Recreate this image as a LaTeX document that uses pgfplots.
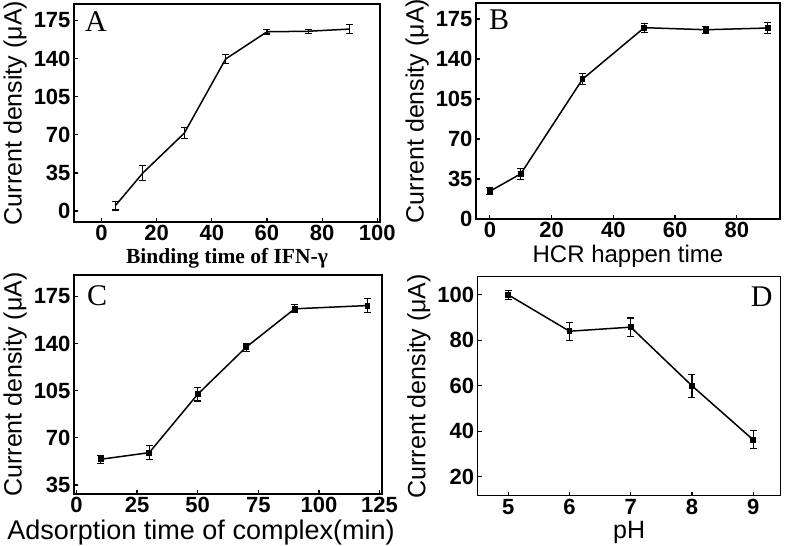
\documentclass[border=0pt]{standalone}
\usepackage{fontspec}
\setmainfont{Liberation Serif}
\setsansfont{Liberation Sans}
\usepackage{pgfplots}
\pgfplotsset{compat=1.18}
\pgfplotsset{
 panel/.style={
  scale only axis,
  axis line style={line width=1.5pt},
  tick style={line width=1.2pt, black},
  major tick length=4pt,
  tick align=inside,
  xtick pos=bottom, ytick pos=left,
  /pgf/number format/assume math mode=true,
  tick label style={font=\sffamily\bfseries\fontsize{22}{22}\selectfont},
  ylabel={Current density (μA)},
  ylabel style={font=\sffamily\fontsize{25}{25}\selectfont},
  xlabel style={font=\sffamily\fontsize{24}{24}\selectfont},
 },
 eb/.style={black, line width=1.5pt,
  /pgfplots/error bars/y dir=both, /pgfplots/error bars/y explicit,
  /pgfplots/error bars/error bar style={line width=1.1pt, solid},
  /pgfplots/error bars/error mark options={rotate=90, mark size=3.5pt, line width=1.1pt, solid}},
}
\tikzset{letter/.style={font=\fontsize{30}{30}\selectfont, inner sep=0pt}}
\begin{document}
\begin{tikzpicture}
\useasboundingbox (0,0) rectangle (787pt,546pt);
% Panel A
\begin{axis}[panel, at={(74pt,324pt)}, anchor=south west, width=306pt, height=218pt,
  xmin=-10, xmax=101, ymin=-10, ymax=190,
  xtick={0,20,40,60,80,100}, ytick={0,35,70,105,140,175},
  xlabel={Binding time of IFN-γ},
  xlabel style={font=\rmfamily\bfseries\fontsize{21.5}{21.5}\selectfont}]
\addplot+[eb, mark=none] coordinates {
 (5,5) +- (0,4)
 (15,35) +- (0,7)
 (30,71.5) +- (0,5)
 (45,139.5) +- (0,4)
 (60,164.5) +- (0,2)
 (75,165) +- (0,2)
 (90,167) +- (0,4)
};
\node[letter, anchor=north west] at ([xshift=11pt,yshift=-8pt]axis description cs:0,1) {A};
\end{axis}
% Panel B
\begin{axis}[panel, at={(476pt,327pt)}, anchor=south west, width=304pt, height=216pt,
  xmin=-4.5, xmax=94, ymin=0, ymax=189,
  xtick={0,20,40,60,80}, ytick={0,35,70,105,140,175},
  xlabel={HCR happen time}]
\addplot+[eb, mark=square*, mark size=2.2pt, mark options={solid, fill=black}] coordinates {
 (0,24.3) +- (0,3)
 (10,39.5) +- (0,5)
 (30,122.3) +- (0,5)
 (50,167.4) +- (0,4)
 (70,165.6) +- (0,3)
 (90,167.1) +- (0,5)
};
\node[letter, anchor=north west] at ([xshift=13pt,yshift=-7pt]axis description cs:0,1) {B};
\end{axis}
% Panel C
\begin{axis}[panel, at={(74pt,52pt)}, anchor=south west, width=308pt, height=219pt,
  xmin=-1, xmax=126, ymin=28.3, ymax=191,
  xtick={0,25,50,75,100,125}, ytick={35,70,105,140,175},
  xlabel={Adsorption time of complex(min)},
  xlabel style={font=\sffamily\fontsize{27}{27}\selectfont, xshift=-27pt}]
\addplot+[eb, mark=square*, mark size=2.2pt, mark options={solid, fill=black}] coordinates {
 (10,54.1) +- (0,3)
 (30,59) +- (0,5)
 (50,102.4) +- (0,5)
 (70,137.4) +- (0,3)
 (90,165.9) +- (0,3)
 (120,168.3) +- (0,5)
};
\node[letter, anchor=north west] at ([xshift=13pt,yshift=-10pt]axis description cs:0,1) {C};
\end{axis}
% Panel D
\begin{axis}[panel, at={(477.7pt,50.3pt)}, anchor=south west, width=303pt, height=219pt,
  xmin=4.5, xmax=9.45, ymin=11.6, ymax=108,
  xtick={5,6,7,8,9}, ytick={20,40,60,80,100},
  xlabel={pH},
  xlabel style={font=\sffamily\fontsize{25}{25}\selectfont}]
\addplot+[eb, mark=square*, mark size=2.2pt, mark options={solid, fill=black}] coordinates {
 (5,100) +- (0,2)
 (6,84) +- (0,4)
 (7,85.8) +- (0,4)
 (8,60) +- (0,5)
 (9,36.2) +- (0,4)
};
\node[letter, anchor=north east] at ([xshift=-8pt,yshift=-10pt]axis description cs:1,1) {D};
\end{axis}
\end{tikzpicture}
\end{document}
